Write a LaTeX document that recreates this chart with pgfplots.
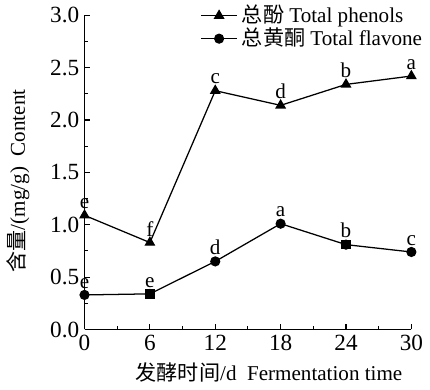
\documentclass[border=0pt]{standalone}
\usepackage{pgfplots}
\pgfplotsset{compat=1.18}
\usepackage{fontspec}
\setmainfont{Liberation Serif}
\newfontfamily\cjk{Noto Sans CJK SC}
\begin{document}
\begin{tikzpicture}
\begin{axis}[
  width=155pt, height=149pt, scale only axis,
  xmin=0, xmax=30, ymin=0, ymax=3,
  axis lines=left, axis line style={-, line width=0.7pt},
  tick align=inside, major tick length=2.5pt, minor tick length=1.5pt,
  every tick/.style={black, line width=0.5pt},
  xtick={0,6,12,18,24,30}, ytick={0,0.5,1,1.5,2,2.5,3},
  minor x tick num=1, minor y tick num=1,
  /pgf/number format/assume math mode=true,
  ticklabel style={font=\fontsize{11}{13}\selectfont},
  yticklabel style={/pgf/number format/fixed, /pgf/number format/fixed zerofill, /pgf/number format/precision=1, xshift=1pt},
  xticklabel style={yshift=1pt},
  xlabel={{\cjk 发酵时间}/d\ \ Fermentation time},
  ylabel={{\cjk 含量}/(mg/g)\ \ Content},
  label style={font=\normalsize},
  xlabel style={yshift=1pt, xshift=10pt},
  ylabel style={yshift=3pt, xshift=-4pt},
  clip=false,
  legend style={draw=none, fill=none, at={(rel axis cs:1.05,1.05)}, anchor=north east, row sep=-3pt, font=\normalsize, inner sep=0.5pt},
  legend cell align=left,
  legend image post style={line width=0.6pt},
  every node near coord/.style={anchor=south, inner sep=0.8pt, yshift=2pt, font=\normalsize, black},
]
\addplot[black, line width=0.6pt, mark=triangle*, mark size=2.4pt, nodes near coords, point meta=explicit symbolic] table[meta=l] {
x y l
0 1.09 e
6 0.83 f
12 2.28 c
18 2.14 d
24 2.34 b
30 2.42 a
};
\addlegendentry{{\cjk 总酚} Total phenols}
\addplot[black, line width=0.6pt, mark=*, mark size=2.1pt, nodes near coords, point meta=explicit symbolic] table[meta=l] {
x y l
0 0.33 e
6 0.34 e
12 0.65 d
18 1.01 a
24 0.81 b
30 0.74 c
};
\addlegendentry{{\cjk 总黄酮} Total flavone}
\addplot[black, only marks, mark=square*, mark size=2pt, forget plot] coordinates {(6,0.34) (24,0.81)};
\end{axis}
\end{tikzpicture}
\end{document}
